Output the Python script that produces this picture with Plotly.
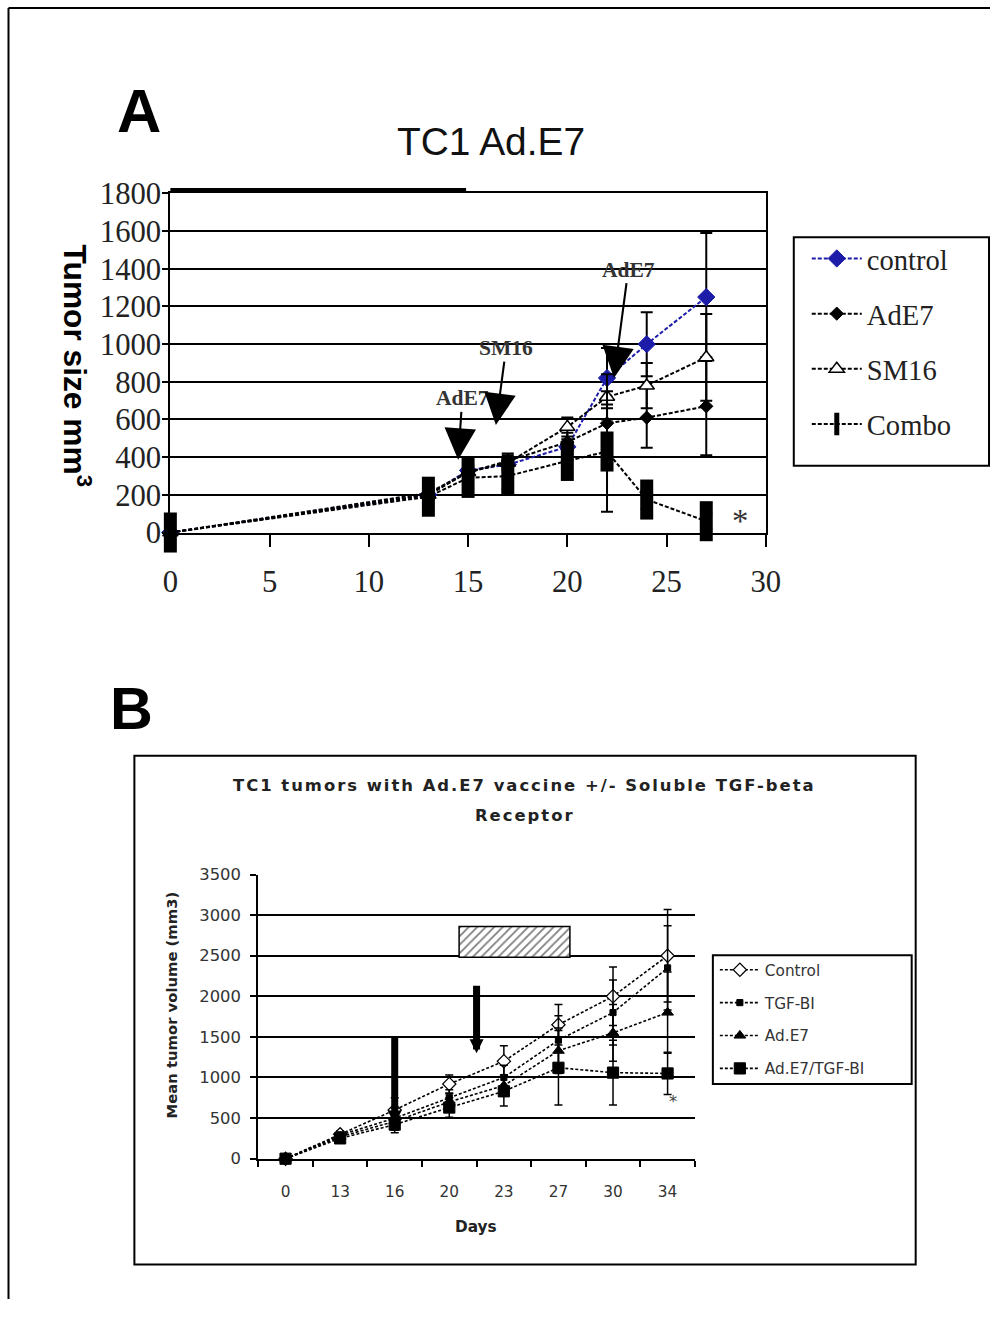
import plotly.graph_objects as go

W, H = 1005, 1317
# The photographed page comes out slightly scaled and shifted; positions below are
# given in reference-picture pixels and converted through this measured mapping.
SX, OX, SY, OY = 0.978, 6.5, 0.977, 15.0
def MX(t): return (t - OX) / SX
def MY(t): return (t - OY) / SY
def PX(t): return MX(t) / W
def PY(t): return 1 - MY(t) / H
def F(s): return round(s / SX, 1)

# ---------------- Panel A data ----------------
days_a = [0, 13, 15, 17, 20, 22, 24, 27]
control_a = [0, 200, 330, 360, 455, 820, 1000, 1250]
control_a_err = [0, 20, 30, 30, 40, 160, 170, 340]
ade7_a = [0, 210, 320, 380, 480, 580, 610, 670]
ade7_a_err = [0, 30, 40, 40, 50, 100, 160, 260]
sm16_a = [0, 200, 320, 370, 560, 720, 780, 930]
sm16_a_err = [0, 30, 40, 40, 50, 120, 120, 230]
combo_a = [0, 190, 290, 300, 380, 430, 175, 60]
combo_a_err = [0, 40, 60, 70, 60, 320, 50, 40]
a_xticks = [0, 5, 10, 15, 20, 25, 30]
a_yticks = [0, 200, 400, 600, 800, 1000, 1200, 1400, 1600, 1800]

# ---------------- Panel B data ----------------
days_b = ["0", "13", "16", "20", "23", "27", "30", "34"]
control_b = [0, 300, 600, 920, 1200, 1650, 2000, 2500]
control_b_err = [0, 40, 150, 110, 190, 250, 360, 570]
tgf_b = [0, 290, 500, 750, 1000, 1460, 1800, 2350]
tgf_b_err = [0, 40, 120, 100, 150, 300, 400, 520]
ade7_b = [0, 270, 460, 700, 900, 1330, 1550, 1800]
ade7_b_err = [0, 40, 110, 100, 130, 280, 350, 500]
combo_b = [0, 250, 420, 630, 830, 1120, 1060, 1050]
combo_b_err = [0, 40, 100, 120, 180, 460, 400, 260]
tgf_window_low = 2480
tgf_window_high = 2860
b_yticks = [0, 500, 1000, 1500, 2000, 2500, 3000, 3500]

fig = go.Figure()

serif = "Liberation Serif"
sans = "Liberation Sans"
dv = "DejaVu Sans"

def add_a(name, y, err, lcolor, symbol, size, mcolor, mlc, mlw, group):
    fig.add_trace(go.Scatter(
        x=days_a, y=y, name=name, mode="lines+markers", xaxis="x", yaxis="y",
        cliponaxis=False,
        line=dict(color=lcolor, width=2, dash="4px,2px"),
        marker=dict(symbol=symbol, size=F(size), color=mcolor, line=dict(color=mlc, width=mlw)),
        error_y=dict(type="data", array=err, color="black", thickness=2, width=6),
        legend="legend", legendgroup=group))

add_a("control", control_a, control_a_err, "#1c1ca8", "diamond", 13, "#1c1ca8", "#1c1ca8", 1, "a1")
add_a("AdE7", ade7_a, ade7_a_err, "black", "diamond", 10, "black", "black", 1, "a2")
add_a("SM16", sm16_a, sm16_a_err, "black", "triangle-up", 13, "white", "black", 1.5, "a3")
add_a("Combo", combo_a, combo_a_err, "black", "line-ns", 28, "black", "black", 13, "a4")

# hatched treatment window in panel B
fig.add_trace(go.Bar(
    x=[days_b[4]], y=[tgf_window_high - tgf_window_low], base=[tgf_window_low],
    width=[2.03], offset=[-0.82], xaxis="x2", yaxis="y2", showlegend=False,
    marker=dict(color="white", line=dict(color="black", width=1.5),
                pattern=dict(shape="/", fgcolor="black", bgcolor="white", size=6, solidity=0.3))))

def add_b(name, y, err, symbol, size, mcolor, mlw, group):
    fig.add_trace(go.Scatter(
        x=days_b, y=y, name=name, mode="lines+markers", xaxis="x2", yaxis="y2",
        cliponaxis=False,
        line=dict(color="black", width=1.6, dash="3px,2px"),
        marker=dict(symbol=symbol, size=F(size), color=mcolor, line=dict(color="black", width=mlw)),
        error_y=dict(type="data", array=err, color="black", thickness=1.5, width=4),
        legend="legend2", legendgroup=group))

add_b("Control", control_b, control_b_err, "diamond", 10, "white", 1.2, "b1")
add_b("TGF-BI", tgf_b, tgf_b_err, "square", 6, "black", 1, "b2")
add_b("Ad.E7", ade7_b, ade7_b_err, "triangle-up", 10, "black", 1, "b3")
add_b("Ad.E7/TGF-BI", combo_b, combo_b_err, "square", 11, "black", 1, "b4")

def ptext(text, x, y, size, family, color="black", angle=0):
    return dict(text=text, x=PX(x), y=PY(y), xref="paper", yref="paper", showarrow=False,
                xanchor="center", yanchor="middle", textangle=angle,
                font=dict(family=family, size=F(size), color=color))

def arrow_a(text, x, y, dx, dy):
    return dict(text=text, x=x, y=y, ax=dx / SX, ay=dy / SY, xref="x", yref="y", showarrow=True,
                arrowhead=2, arrowsize=3, arrowwidth=2.1, arrowcolor="black",
                font=dict(family=serif, size=F(21), color="#333"))

ls = "letter-spacing:2px"
annotations = [
    ptext("<b>A</b>", 138, 110, 60, sans),
    ptext("TC1 Ad.E7", 490, 141, 38, sans, "#111"),
    ptext("<b>Tumor size mm<sup>3</sup></b>", 76, 366, 31, sans, "black", 90),
    arrow_a("<b>AdE7</b>", 14.5, 386, 4, -60),
    arrow_a("<b>SM16</b>", 16.4, 571, 10, -75),
    arrow_a("<b>AdE7</b>", 22.35, 820, 14, -106),
    dict(text="*", x=28.7, y=60, xref="x", yref="y", showarrow=False,
         font=dict(family=serif, size=F(32), color="#333")),
    ptext("<b>B</b>", 130, 710, 58, sans),
    ptext("<b><span style='%s'>TC1 tumors with Ad.E7 vaccine +/- Soluble TGF-beta</span></b>" % ls,
          523, 787, 16, dv, "#222"),
    ptext("<b><span style='%s'>Receptor</span></b>" % ls, 523, 817, 16, dv, "#222"),
    ptext("<b>Mean tumor volume (mm3)</b>", 170, 1007, 14.5, dv, "#222", -90),
    ptext("<b>Days</b>", 475, 1229, 15, dv, "#222"),
    dict(text="", x=2, y=420, ax=2, ay=1520, xref="x2", yref="y2", axref="x2", ayref="y2",
         showarrow=True, arrowhead=2, arrowsize=0.4, arrowwidth=7, arrowcolor="black"),
    dict(text="", x=3.5, y=1300, ax=3.5, ay=2150, xref="x2", yref="y2", axref="x2", ayref="y2",
         showarrow=True, arrowhead=2, arrowsize=0.4, arrowwidth=7, arrowcolor="black"),
    dict(text="*", x=7.1, y=700, xref="x2", yref="y2", showarrow=False,
         font=dict(family=dv, size=F(16), color="#444")),
]

shapes = [
    # outer frame: left and top edges
    dict(type="line", xref="paper", yref="paper", x0=PX(7), x1=PX(7), y0=PY(7), y1=0,
         line=dict(color="black", width=2)),
    dict(type="line", xref="paper", yref="paper", x0=PX(7), x1=1, y0=PY(7), y1=PY(7),
         line=dict(color="black", width=2)),
    dict(type="line", xref="paper", yref="paper", x0=PX(169), x1=PX(465), y0=PY(189), y1=PY(189),
         line=dict(color="black", width=3)),
    dict(type="rect", xref="paper", yref="paper", x0=PX(793), x1=min(PX(990), 0.999),
         y0=PY(237), y1=PY(466), line=dict(color="black", width=2)),
    dict(type="rect", xref="paper", yref="paper", x0=PX(133), x1=PX(915), y0=PY(757), y1=PY(1267),
         line=dict(color="black", width=2)),
    dict(type="rect", xref="paper", yref="paper", x0=PX(712), x1=PX(911), y0=PY(957), y1=PY(1086),
         line=dict(color="black", width=2)),
]

fig.update_layout(
    width=W, height=H, margin=dict(l=0, r=0, t=0, b=0),
    paper_bgcolor="white", plot_bgcolor="white",
    xaxis=dict(domain=[PX(169), PX(765)], range=[0, 30], tickvals=a_xticks, anchor="y",
               ticks="outside", ticklen=12, tickwidth=2, tickcolor="black",
               showline=True, linewidth=2, linecolor="black", mirror=True,
               showgrid=False, zeroline=False, ticklabelstandoff=9,
               tickfont=dict(family=serif, size=F(30), color="#222")),
    yaxis=dict(domain=[PY(533), PY(193)], range=[0, 1800], tickvals=a_yticks, anchor="x",
               ticks="outside", ticklen=6, tickwidth=2, tickcolor="black",
               showline=True, linewidth=2, linecolor="black", mirror=True,
               showgrid=True, gridcolor="black", gridwidth=2, zeroline=False,
               ticklabelstandoff=-5,
               tickfont=dict(family=serif, size=F(30), color="#222")),
    xaxis2=dict(domain=[PX(257), PX(694)], type="category", categoryorder="array",
                categoryarray=days_b, range=[-0.5, 7.5], anchor="y2", tickson="boundaries",
                ticks="outside", ticklen=6, tickwidth=2, tickcolor="black",
                showline=True, linewidth=2, linecolor="black", showgrid=False, zeroline=False,
                ticklabelstandoff=18, tickfont=dict(family=dv, size=F(15), color="#333")),
    yaxis2=dict(domain=[PY(1161), PY(876)], range=[0, 3500], tickvals=b_yticks, anchor="x2",
                ticks="outside", ticklen=6, tickwidth=2, tickcolor="black",
                showline=True, linewidth=2, linecolor="black",
                showgrid=True, gridcolor="black", gridwidth=2, zeroline=False,
                ticklabelstandoff=6,
                tickfont=dict(family=dv, size=F(16), color="#333")),
    legend=dict(x=PX(806), y=PY(233), xanchor="left", yanchor="top", bgcolor="rgba(0,0,0,0)",
                borderwidth=0, traceorder="grouped", tracegroupgap=15, itemwidth=50,
                font=dict(family=serif, size=F(28), color="#222")),
    legend2=dict(x=PX(714), y=PY(955), xanchor="left", yanchor="top", bgcolor="rgba(0,0,0,0)",
                 borderwidth=0, traceorder="grouped", tracegroupgap=10, itemwidth=40,
                 font=dict(family=dv, size=F(15), color="#333")),
    annotations=annotations, shapes=shapes, showlegend=True,
)

fig.write_html("out.html",
               post_script="document.body.style.margin='0';document.body.style.overflow='hidden';")
